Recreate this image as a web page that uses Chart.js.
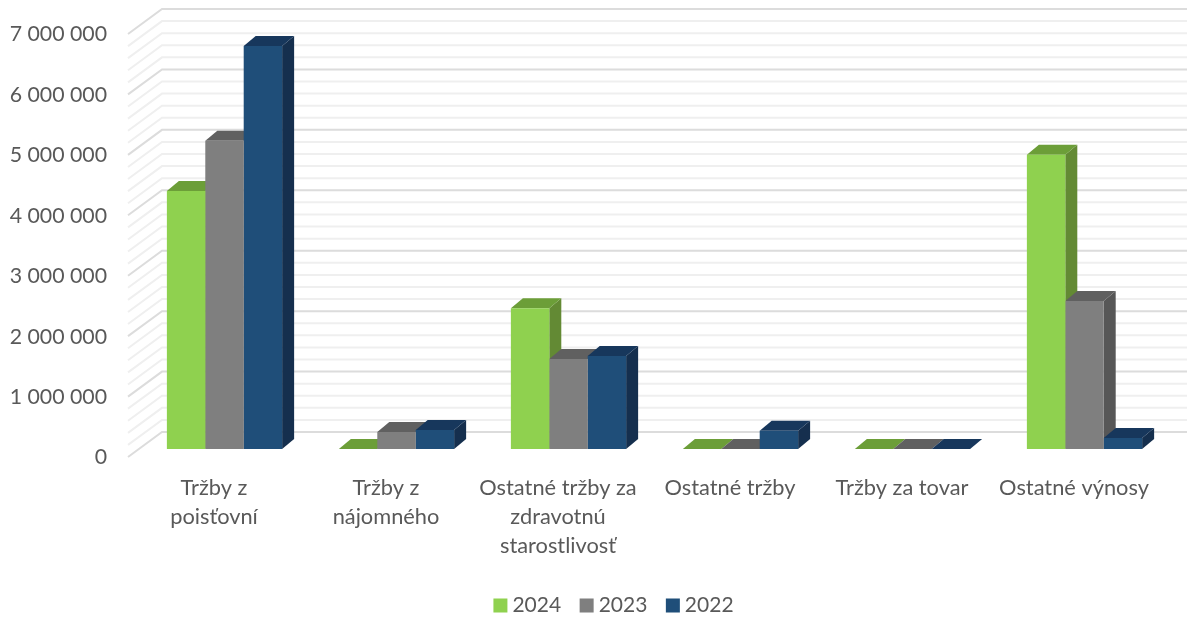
<!DOCTYPE html>
<html>
<head>
<meta charset="utf-8">
<title>Výnosy</title>
<script src="https://cdn.jsdelivr.net/npm/chart.js@4"></script>
<style>
  html, body { margin: 0; padding: 0; background: #fff; }
  canvas { display: block; }
</style>
</head>
<body>
<canvas id="chart" width="1187" height="617"></canvas>
<script>
var categories = [
  ["Tržby z", "poisťovní"],
  ["Tržby z", "nájomného"],
  ["Ostatné tržby za", "zdravotnú", "starostlivosť"],
  "Ostatné tržby",
  "Tržby za tovar",
  "Ostatné výnosy"
];
var values2024 = [4270000, 0, 2330000, 0, 0, 4870000];
var values2023 = [5100000, 280000, 1490000, 0, 0, 2450000];
var values2022 = [6670000, 315000, 1540000, 300000, 0, 180000];
var tickLabels = ["0", "1 000 000", "2 000 000", "3 000 000", "4 000 000", "5 000 000", "6 000 000", "7 000 000"];

var frontColors = ["#8fd14f", "#7f7f7f", "#1f4e79"];
var topColors = ["#6c9e38", "#606060", "#17375c"];
var sideColors = ["#638a34", "#575757", "#152f4e"];

// how far the bars stand back from the front edge of the floor, and how deep they are
var wallFront = { x: -10.5, y: 8 };
var wallBack = { x: 23.5, y: -17 };
var barDepth = { x: 12, y: -10 };

// side wall and back wall lines, taken from the y scale ticks
var wallPlugin = {
  id: "walls",
  beforeDatasetsDraw: function(chart) {
    var ctx = chart.ctx;
    var y = chart.scales.y;
    var left = chart.chartArea.left;
    ctx.save();
    ctx.lineWidth = 2;
    y.ticks.forEach(function(t) {
      var py = y.getPixelForValue(t.value);
      ctx.strokeStyle = t.value % 1000000 === 0 ? "#dcdcdc" : "#efefef";
      ctx.beginPath();
      ctx.moveTo(left + wallFront.x, py + wallFront.y);
      ctx.lineTo(left + wallBack.x, py + wallBack.y);
      ctx.lineTo(chart.width, py + wallBack.y);
      ctx.stroke();
    });
    ctx.restore();
  }
};

// top and right faces of the bars, the front face is the normal Chart.js bar
var depthPlugin = {
  id: "barDepth",
  beforeDatasetsDraw: function(chart) {
    var ctx = chart.ctx;
    chart.data.datasets.forEach(function(ds, i) {
      chart.getDatasetMeta(i).data.forEach(function(bar) {
        var p = bar.getProps(["x", "y", "base", "width"], true);
        var l = p.x - p.width / 2;
        var r = p.x + p.width / 2;

        ctx.fillStyle = sideColors[i];
        ctx.beginPath();
        ctx.moveTo(r, p.base);
        ctx.lineTo(r + barDepth.x, p.base + barDepth.y);
        ctx.lineTo(r + barDepth.x, p.y + barDepth.y);
        ctx.lineTo(r, p.y);
        ctx.closePath();
        ctx.fill();

        ctx.fillStyle = topColors[i];
        ctx.beginPath();
        ctx.moveTo(l, p.y);
        ctx.lineTo(l + barDepth.x, p.y + barDepth.y);
        ctx.lineTo(r + barDepth.x, p.y + barDepth.y);
        ctx.lineTo(r, p.y);
        ctx.closePath();
        ctx.fill();
      });
    });
  }
};

// the legend sits a little right of and below where the layout puts it
var legendShift = {
  id: "legendShift",
  afterLayout: function(chart) {
    chart.legend.left += 62;
    chart.legend.top += 9;
  }
};

new Chart(document.getElementById("chart"), {
  type: "bar",
  data: {
    labels: categories,
    datasets: [
      { label: "2024", data: values2024, backgroundColor: frontColors[0] },
      { label: "2023", data: values2023, backgroundColor: frontColors[1] },
      { label: "2022", data: values2022, backgroundColor: frontColors[2] }
    ]
  },
  options: {
    responsive: false,
    animation: false,
    categoryPercentage: 0.67,
    barPercentage: 1,
    layout: { padding: { left: 0, right: 16.5, top: 26, bottom: 0 } },
    plugins: {
      tooltip: { enabled: false },
      legend: {
        position: "bottom",
        labels: {
          usePointStyle: true,
          pointStyle: "rect",
          boxWidth: 3,
          boxHeight: 14,
          padding: 24,
          color: "#595959",
          font: { family: "Lato", size: 21 }
        }
      }
    },
    scales: {
      x: {
        grid: { display: false },
        border: { display: false },
        afterFit: function(s) { s.height = 113; },
        ticks: {
          autoSkip: false,
          maxRotation: 0,
          minRotation: 0,
          padding: 16,
          labelOffset: -10.5,
          color: "#595959",
          font: { family: "Lato", size: 21.8, lineHeight: 1.33 }
        }
      },
      y: {
        min: 0,
        max: 7000000,
        grid: { display: false },
        border: { display: false },
        afterFit: function(s) {
          s.width = 138.5;
          s.paddingTop = 0;
          s.paddingBottom = 0;
        },
        ticks: {
          stepSize: 200000,
          autoSkip: false,
          padding: 23.5,
          labelOffset: 8.5,
          color: "#595959",
          font: { family: "Lato", size: 21.3 },
          callback: function(v) {
            return v % 1000000 === 0 ? tickLabels[v / 1000000] : "";
          }
        }
      }
    }
  },
  plugins: [wallPlugin, depthPlugin, legendShift]
});
</script>
</body>
</html>
